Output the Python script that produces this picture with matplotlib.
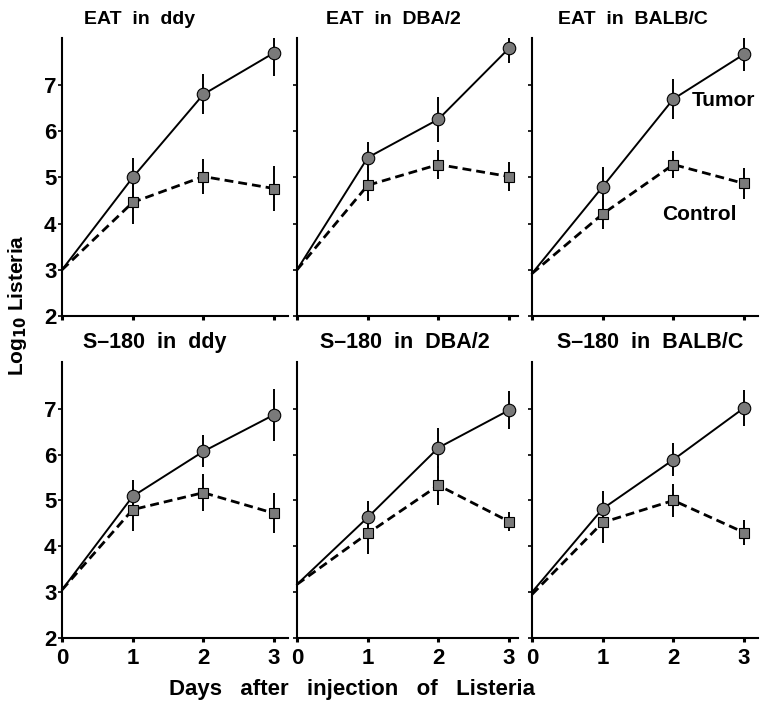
import matplotlib
matplotlib.use("Agg")
import matplotlib.pyplot as plt

plt.rcParams['font.family'] = ['Liberation Sans', 'DejaVu Sans']
plt.rcParams['font.weight'] = 'bold'

days = [0, 1, 2, 3]
titles = ["EAT  in  ddy", "EAT  in  DBA/2", "EAT  in  BALB/C",
          "S\u2013180  in  ddy", "S\u2013180  in  DBA/2", "S\u2013180  in  BALB/C"]

tumor = [[3.0, 5.0, 6.8, 7.7],
         [3.0, 5.43, 6.26, 7.8],
         [2.92, 4.8, 6.7, 7.67],
         [3.05, 5.09, 6.07, 6.87],
         [3.17, 4.63, 6.15, 6.97],
         [3.0, 4.82, 5.89, 7.02]]
tumor_err = [[0, 0.42, 0.43, 0.5],
             [0, 0.33, 0.49, 0.33],
             [0, 0.42, 0.44, 0.37],
             [0, 0.35, 0.35, 0.57],
             [0, 0.36, 0.44, 0.42],
             [0, 0.38, 0.36, 0.4]]
control = [[3.0, 4.46, 5.02, 4.76],
           [3.0, 4.83, 5.28, 5.02],
           [2.92, 4.21, 5.28, 4.87],
           [3.05, 4.8, 5.17, 4.72],
           [3.17, 4.28, 5.33, 4.54],
           [2.95, 4.52, 5.0, 4.3]]
control_err = [[0, 0.46, 0.38, 0.48],
               [0, 0.33, 0.32, 0.32],
               [0, 0.32, 0.3, 0.34],
               [0, 0.47, 0.4, 0.44],
               [0, 0.45, 0.43, 0.2],
               [0, 0.44, 0.36, 0.28]]

W, H = 762, 707
fig = plt.figure(figsize=(W / 100, H / 100), dpi=100)

# axes boxes in pixels: left, top, right, bottom
lefts = [62, 297, 532]
rights = [288, 518, 758]
tops = [38, 362]
bottoms = [316, 638]
title_x = [140, 393, 633, 155, 405, 650]
title_y = [20, 342]

for i in range(6):
    r, c = divmod(i, 3)
    l, rt = lefts[c], rights[c]
    t, b = tops[r], bottoms[r]
    ax = fig.add_axes([l / W, 1 - b / H, (rt - l) / W, (b - t) / H])
    ax.set_xlim(0, (rt - l) / 70.7)
    ax.set_ylim(2, 8.02)

    ax.errorbar(days[1:], control[i][1:], yerr=control_err[i][1:],
                fmt='none', ecolor='k', elinewidth=1.4, capsize=0)
    ax.errorbar(days[1:], tumor[i][1:], yerr=tumor_err[i][1:],
                fmt='none', ecolor='k', elinewidth=1.4, capsize=0)
    ax.plot(days, control[i], color='k', lw=2.0, ls=(0, (3.2, 1.8)),
            clip_on=False)
    ax.plot(days, tumor[i], color='k', lw=1.4, clip_on=False)
    ax.plot(days[1:], control[i][1:], 's', ms=7, mfc='#7a7a7a',
            mec='k', mew=0.8, clip_on=False)
    ax.plot(days[1:], tumor[i][1:], 'o', ms=9, mfc='#7a7a7a',
            mec='k', mew=0.8, clip_on=False)

    for side in ['top', 'right']:
        ax.spines[side].set_visible(False)
    for side in ['left', 'bottom']:
        ax.spines[side].set_linewidth(1.5)

    ax.set_yticks([2, 3, 4, 5, 6, 7])
    ax.set_xticks(days)
    ax.tick_params(axis='y', direction='out', length=3, width=1.2,
                   labelsize=16, pad=1)
    ax.tick_params(axis='x', direction='out', length=3, width=2.2,
                   labelsize=16, pad=4)
    if c != 0:
        ax.set_yticklabels([])
    if r == 0:
        ax.set_xticklabels([])

    fig.text(title_x[i] / W, 1 - title_y[r] / H, titles[i],
             ha='center', va='center',
             fontsize=14 if r == 0 else 15.5, fontweight='bold')

fig.text(692 / W, 1 - 100 / H, "Tumor", ha='left', va='center',
         fontsize=15, fontweight='bold')
fig.text(662 / W, 1 - 214 / H, "Control", ha='left', va='center',
         fontsize=15, fontweight='bold')

fig.text(18 / W, 1 - 305 / H, "Log$_{\\mathbf{10}}$ Listeria",
         rotation=90, ha='center', va='center', fontsize=15,
         fontweight='bold')
fig.text(352 / W, 1 - 690 / H, "Days   after   injection   of   Listeria",
         ha='center', va='center', fontsize=16, fontweight='bold')

fig.savefig("out.png", dpi=100)
